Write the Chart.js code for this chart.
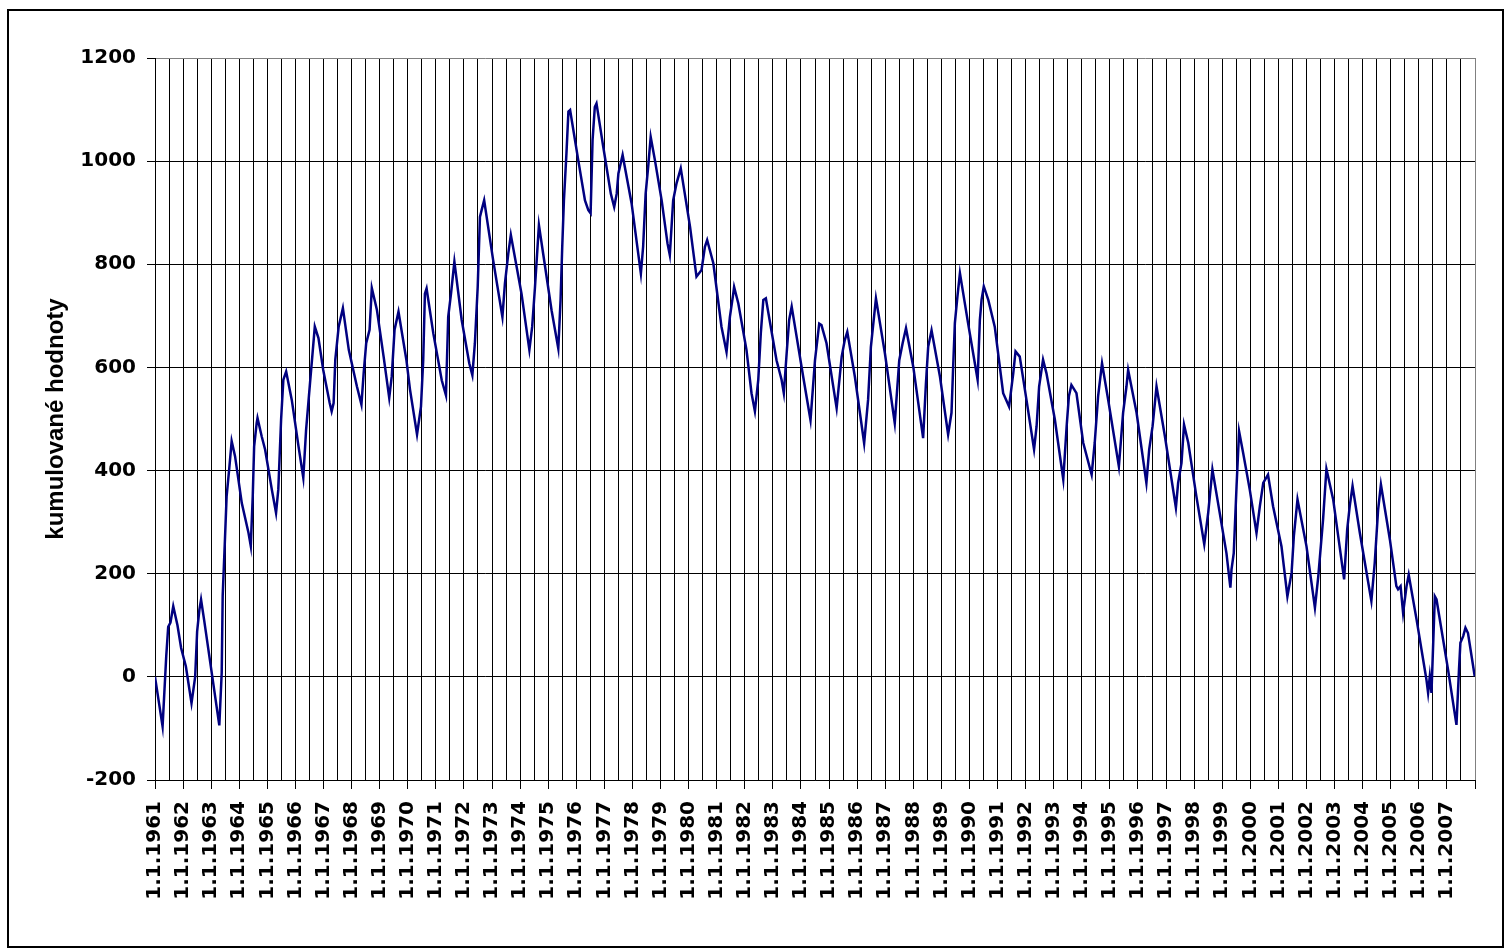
<!DOCTYPE html>
<html>
<head>
<meta charset="utf-8">
<script src="https://cdn.jsdelivr.net/npm/chart.js@4/dist/chart.umd.min.js"></script>
<style>
  html, body { margin: 0; padding: 0; background: #fff; }
  #frame { position: absolute; left: 7px; top: 9px; width: 1497px; height: 939px; box-sizing: border-box; border: 2px solid #000; }
  #c { position: absolute; left: 0; top: 0; }
</style>
</head>
<body>
<div id="frame"></div>
<canvas id="c" width="1505" height="949"></canvas>
<script>
// Decimal year of each read vertex
const dates = [
  1961.00, 1961.27, 1961.40, 1961.47, 1961.55, 1961.65, 1961.80, 1961.93, 1962.10, 1962.30,
  1962.43, 1962.50, 1962.58, 1962.64, 1962.75, 1963.29, 1963.375, 1963.41, 1963.49, 1963.55,
  1963.64, 1963.73, 1963.85, 1964.09, 1964.33, 1964.41, 1964.48, 1964.53, 1964.62, 1964.65,
  1964.80, 1964.92, 1965.16, 1965.31, 1965.39, 1965.49, 1965.57, 1965.67, 1965.87, 1966.11,
  1966.28, 1966.38, 1966.52, 1966.60, 1966.69, 1966.82, 1966.99, 1967.22, 1967.29, 1967.36,
  1967.42, 1967.54, 1967.69, 1967.90, 1968.19, 1968.35, 1968.43, 1968.52, 1968.64, 1968.72,
  1968.90, 1969.14, 1969.34, 1969.43, 1969.53, 1969.67, 1969.95, 1970.08, 1970.33, 1970.47,
  1970.55, 1970.61, 1970.67, 1970.91, 1971.21, 1971.36, 1971.44, 1971.54, 1971.66, 1971.92,
  1972.19, 1972.30, 1972.39, 1972.49, 1972.57, 1972.63, 1972.72, 1973.04, 1973.37, 1973.46,
  1973.58, 1973.67, 1974.05, 1974.33, 1974.43, 1974.53, 1974.67, 1974.82, 1975.12, 1975.36,
  1975.44, 1975.50, 1975.56, 1975.65, 1975.72, 1975.78, 1976.07, 1976.31, 1976.43, 1976.51,
  1976.58, 1976.66, 1976.72, 1976.96, 1977.23, 1977.35, 1977.44, 1977.50, 1977.65, 1977.97,
  1978.30, 1978.38, 1978.47, 1978.56, 1978.65, 1978.80, 1979.04, 1979.25, 1979.33, 1979.45,
  1979.57, 1979.72, 1980.05, 1980.28, 1980.46, 1980.58, 1980.66, 1980.88, 1981.17, 1981.35,
  1981.47, 1981.59, 1981.62, 1981.77, 1982.06, 1982.24, 1982.36, 1982.48, 1982.57, 1982.66,
  1982.75, 1983.13, 1983.31, 1983.39, 1983.49, 1983.58, 1983.67, 1984.08, 1984.34, 1984.50,
  1984.65, 1984.73, 1984.91, 1985.27, 1985.45, 1985.56, 1985.65, 1985.92, 1986.25, 1986.39,
  1986.49, 1986.67, 1986.99, 1987.34, 1987.50, 1987.62, 1987.74, 1988.00, 1988.35, 1988.45,
  1988.53, 1988.65, 1988.95, 1989.24, 1989.36, 1989.42, 1989.48, 1989.57, 1989.66, 1989.95,
  1990.17, 1990.29, 1990.37, 1990.43, 1990.51, 1990.67, 1990.90, 1991.20, 1991.41, 1991.56,
  1991.64, 1991.79, 1992.03, 1992.30, 1992.39, 1992.48, 1992.62, 1992.74, 1993.04, 1993.34,
  1993.46, 1993.54, 1993.63, 1993.81, 1994.05, 1994.35, 1994.46, 1994.58, 1994.72, 1994.94,
  1995.32, 1995.47, 1995.59, 1995.65, 1995.95, 1996.30, 1996.40, 1996.52, 1996.66, 1996.96,
  1997.35, 1997.43, 1997.55, 1997.64, 1997.79, 1998.08, 1998.36, 1998.50, 1998.65, 1998.91,
  1999.15, 1999.29, 1999.33, 1999.41, 1999.51, 1999.60, 1999.745, 1999.98, 2000.22, 2000.34,
  2000.46, 2000.63, 2000.81, 2001.11, 2001.32, 2001.47, 2001.55, 2001.68, 2002.00, 2002.30,
  2002.42, 2002.59, 2002.71, 2002.95, 2003.34, 2003.45, 2003.54, 2003.64, 2003.90, 2004.31,
  2004.43, 2004.55, 2004.65, 2004.97, 2005.20, 2005.26, 2005.35, 2005.44, 2005.56, 2005.64,
  2005.92, 2006.27, 2006.33, 2006.39, 2006.45, 2006.57, 2006.63, 2007.04, 2007.34, 2007.43,
  2007.48, 2007.58, 2007.66, 2007.75, 2007.99
];
// Cumulated values at those vertices
const values = [
  0, -96, 40, 97, 105, 137, 100, 56, 20, -51,
  0, 88, 130, 150, 110, -94, 8, 157, 266, 350,
  402, 457, 428, 337, 279, 254, 350, 447, 492, 502,
  466, 441, 363, 318, 363, 499, 576, 592, 537, 447,
  386, 479, 570, 621, 679, 657, 595, 531, 515, 531,
  615, 679, 715, 634, 563, 528, 589, 647, 673, 754,
  712, 621, 541, 583, 673, 708, 615, 557, 470, 524,
  614, 743, 753, 666, 575, 546, 698, 743, 805, 692,
  608, 585, 647, 756, 892, 905, 924, 808, 698, 763,
  821, 857, 743, 634, 679, 756, 876, 821, 711, 637,
  730, 834, 924, 1015, 1096, 1099, 1002, 924, 905, 899,
  1041, 1105, 1112, 1028, 937, 911, 937, 976, 1012, 918,
  782, 834, 937, 989, 1047, 1002, 924, 840, 818, 924,
  957, 986, 873, 776, 789, 834, 847, 802, 679, 630,
  698, 743, 756, 724, 634, 550, 515, 576, 666, 731,
  734, 614, 576, 550, 627, 692, 718, 582, 498, 614,
  685, 682, 647, 521, 621, 653, 669, 582, 453, 537,
  640, 734, 627, 492, 614, 647, 676, 601, 463, 569,
  640, 672, 582, 470, 512, 602, 686, 737, 783, 686,
  615, 576, 692, 731, 757, 731, 679, 550, 524, 589,
  631, 621, 537, 441, 486, 563, 615, 589, 499, 383,
  486, 544, 566, 550, 454, 392, 454, 544, 608, 537,
  408, 512, 563, 595, 512, 376, 441, 486, 563, 466,
  328, 376, 415, 489, 454, 350, 257, 318, 402, 318,
  240, 173, 208, 240, 370, 476, 434, 363, 279, 331,
  376, 392, 331, 253, 156, 202, 273, 344, 253, 134,
  195, 305, 403, 344, 189, 286, 331, 370, 279, 147,
  221, 324, 373, 266, 176, 170, 176, 124, 175, 198,
  111, -5, -31, 1, -31, 156, 150, 14, -93, 14,
  66, 79, 95, 85, 1
];
// Axis settings
const yTicks = [-200, 0, 200, 400, 600, 800, 1000, 1200];
const firstYear = 1961;
const lastYear = 2008;
const yAxisTitle = 'kumulované hodnoty';

const points = dates.map((d, i) => ({ x: d, y: values[i] }));

const tickFont = { family: 'DejaVu Sans', weight: 'bold', size: 20 };

new Chart(document.getElementById('c'), {
  type: 'line',
  data: {
    datasets: [{
      data: points,
      borderColor: '#000080',
      borderWidth: 2.5,
      pointRadius: 0,
      tension: 0,
      fill: false
    }]
  },
  options: {
    responsive: false,
    animation: false,
    events: [],
    layout: { padding: { left: 44, right: 30, top: 58, bottom: 0 } },
    plugins: { legend: { display: false }, tooltip: { enabled: false } },
    scales: {
      x: {
        type: 'linear',
        min: firstYear,
        max: lastYear,
        afterBuildTicks: (scale) => {
          const t = [];
          for (let v = firstYear; v <= lastYear + 1e-9; v += 0.5) t.push({ value: v });
          scale.ticks = t;
        },
        afterFit: (scale) => {
          scale.height = 169;
          scale.paddingLeft = 0;
          scale.paddingRight = 0;
        },
        ticks: {
          autoSkip: false,
          maxRotation: 90,
          minRotation: 90,
          padding: 12,
          color: '#000',
          font: tickFont,
          callback: (v) => (Number.isInteger(v) && v < lastYear) ? '1.1.' + v : ''
        },
        grid: {
          color: (ctx) => (ctx.tick && ctx.tick.value === lastYear) ? '#808080' : '#000',
          lineWidth: 1,
          tickLength: 9,
          tickColor: (ctx) => (ctx.tick && Number.isInteger(ctx.tick.value)) ? '#000' : 'rgba(0,0,0,0)'
        },
        border: { color: '#000', width: 1 }
      },
      y: {
        type: 'linear',
        min: yTicks[0],
        max: yTicks[yTicks.length - 1],
        afterBuildTicks: (scale) => { scale.ticks = yTicks.map(v => ({ value: v })); },
        afterFit: (scale) => { scale.width = 111; },
        ticks: {
          padding: 11,
          color: '#000',
          font: tickFont,
          callback: (v) => String(v)
        },
        grid: {
          color: (ctx) => (ctx.tick && ctx.tick.value === 1200) ? '#808080' : '#000',
          lineWidth: 1,
          tickLength: 8,
          tickColor: '#000'
        },
        border: { color: '#000', width: 1 },
        title: {
          display: true,
          text: yAxisTitle,
          color: '#000',
          padding: 0,
          font: { family: 'Liberation Sans', weight: 'bold', size: 24, lineHeight: 1 }
        }
      }
    }
  }
});
</script>
</body>
</html>
